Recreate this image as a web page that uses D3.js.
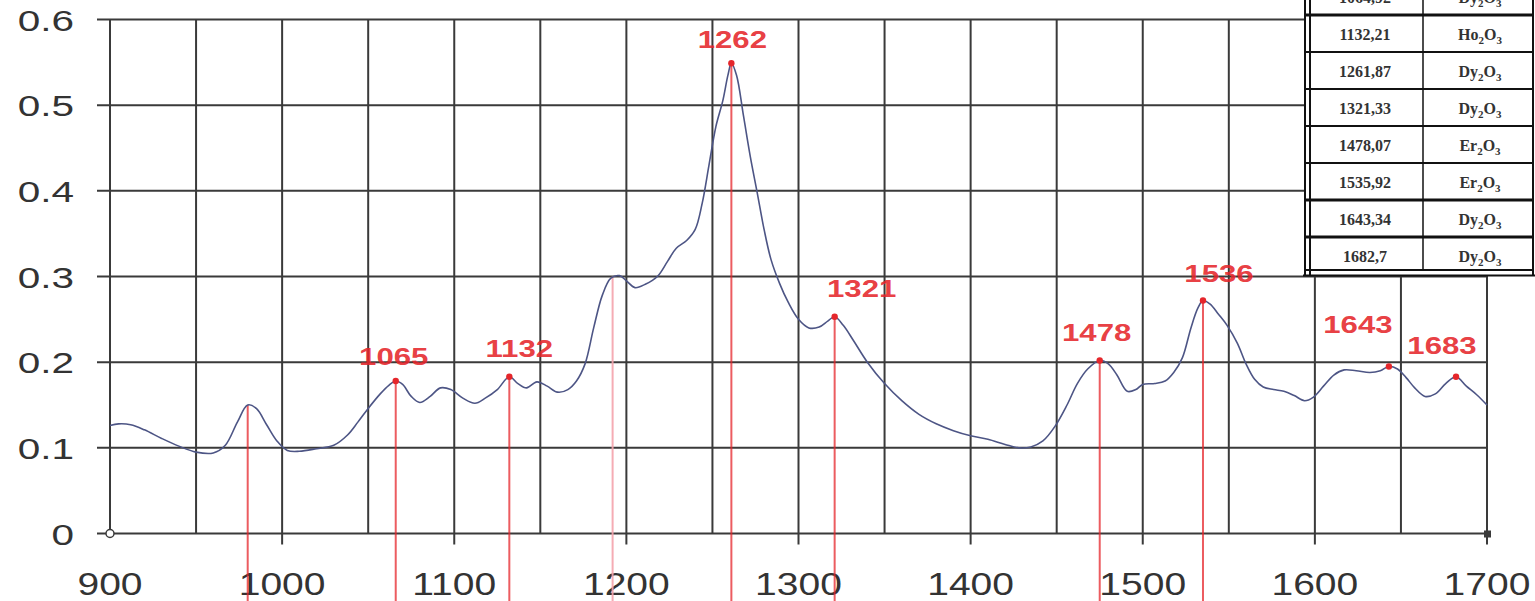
<!DOCTYPE html>
<html>
<head>
<meta charset="utf-8">
<script src="https://cdn.jsdelivr.net/npm/d3@7"></script>
<style>
  body { margin: 0; background: #fff; }
  svg { display: block; }
</style>
</head>
<body>
<svg class="chart"></svg>
<script>
// spectrum
var wavenumber = [900, 905, 912, 920, 930, 940, 950, 960, 967, 974, 980, 985, 991, 997, 1003, 1010, 1020, 1030, 1038, 1044, 1050, 1057, 1062, 1066, 1070, 1075, 1080, 1086, 1092, 1098, 1105, 1112, 1118, 1125, 1132, 1137, 1142, 1148, 1154, 1160, 1166, 1171, 1176, 1181, 1186, 1191, 1196, 1200, 1205, 1211, 1218, 1224, 1229, 1235, 1240, 1244, 1248, 1252, 1256, 1259, 1261, 1264, 1268, 1272, 1276, 1280, 1284, 1289, 1294, 1300, 1306, 1312, 1317, 1321, 1326, 1332, 1340, 1350, 1360, 1370, 1380, 1390, 1400, 1410, 1420, 1428, 1435, 1442, 1449, 1456, 1462, 1468, 1475, 1480, 1485, 1491, 1496, 1500, 1507, 1513, 1518, 1523, 1528, 1532, 1535, 1539, 1544, 1549, 1555, 1560, 1565, 1570, 1576, 1582, 1588, 1594, 1599, 1605, 1611, 1617, 1624, 1632, 1638, 1643, 1648, 1653, 1658, 1664, 1670, 1676, 1682, 1688, 1694, 1700];
var absorbance = [0.126, 0.128, 0.127, 0.121, 0.111, 0.102, 0.095, 0.094, 0.103, 0.130, 0.150, 0.146, 0.127, 0.108, 0.097, 0.096, 0.099, 0.103, 0.115, 0.130, 0.146, 0.163, 0.173, 0.178, 0.174, 0.160, 0.153, 0.160, 0.170, 0.168, 0.158, 0.152, 0.158, 0.168, 0.183, 0.175, 0.170, 0.177, 0.172, 0.165, 0.168, 0.178, 0.198, 0.240, 0.278, 0.298, 0.301, 0.295, 0.287, 0.291, 0.300, 0.318, 0.333, 0.342, 0.355, 0.385, 0.430, 0.475, 0.505, 0.535, 0.549, 0.535, 0.488, 0.440, 0.398, 0.355, 0.320, 0.292, 0.270, 0.250, 0.240, 0.241, 0.248, 0.253, 0.243, 0.225, 0.200, 0.175, 0.155, 0.139, 0.128, 0.120, 0.114, 0.110, 0.104, 0.100, 0.101, 0.108, 0.125, 0.150, 0.175, 0.192, 0.202, 0.198, 0.185, 0.166, 0.168, 0.174, 0.175, 0.178, 0.188, 0.205, 0.240, 0.263, 0.272, 0.268, 0.256, 0.243, 0.222, 0.198, 0.180, 0.171, 0.168, 0.166, 0.161, 0.155, 0.159, 0.172, 0.185, 0.191, 0.190, 0.188, 0.190, 0.195, 0.192, 0.182, 0.170, 0.160, 0.163, 0.175, 0.183, 0.172, 0.162, 0.150];

// marked peaks
var peakPos   = [980, 1066, 1132, 1192, 1261, 1321, 1475, 1535, 1643, 1682];
var peakVal   = [0.150, 0.178, 0.183, 0.300, 0.549, 0.253, 0.202, 0.272, 0.195, 0.183];
var peakLabel = ["", "1065", "1132", "", "1262", "1321", "1478", "1536", "1643", "1683"];
var peakDrop  = [true, true, true, true, true, true, true, true, false, false];

var xTicks = [900, 1000, 1100, 1200, 1300, 1400, 1500, 1600, 1700];
var xGrid = d3.range(900, 1701, 50);
var yTicks = [0, 0.1, 0.2, 0.3, 0.4, 0.5, 0.6];

// inset table
var tableWave  = ["1064,92", "1132,21", "1261,87", "1321,33", "1478,07", "1535,92", "1643,34", "1682,7"];
var tableOxide = ["Dy", "Ho", "Dy", "Dy", "Er", "Er", "Dy", "Dy"];

var W = 1535, H = 601;

var svg = d3.select(".chart")
    .attr("width", W)
    .attr("height", H);

var x = d3.scaleLinear().domain([900, 1700]).range([110, 1487]);
var y = d3.scaleLinear().domain([0, 0.6]).range([533.5, 19.5]);

var gridColor = "#3a3a3a";
var red = "#e5262b";

// grid
var grid = svg.append("g");
grid.selectAll(".hg")
    .data(yTicks)
  .enter().append("line")
    .attr("x1", 97).attr("x2", x(1700))
    .attr("y1", d => y(d)).attr("y2", d => y(d))
    .attr("stroke", gridColor)
    .attr("stroke-width", 2);

grid.selectAll(".vg")
    .data(xGrid)
  .enter().append("line")
    .attr("x1", d => x(d)).attr("x2", d => x(d))
    .attr("y1", y(0.6))
    .attr("y2", d => d % 100 == 0 && d != 900 ? y(0) + 11 : y(0))
    .attr("stroke", gridColor)
    .attr("stroke-width", 2);

// axis end markers
svg.append("circle")
    .attr("cx", x(900)).attr("cy", y(0)).attr("r", 4)
    .attr("fill", "#fff").attr("stroke", gridColor).attr("stroke-width", 1.5);
svg.append("rect")
    .attr("x", x(1700) - 3).attr("y", y(0) - 3)
    .attr("width", 7).attr("height", 7)
    .attr("fill", gridColor);

// tick labels (the original lettering is wide, so stretch it)
svg.selectAll(".ylab")
    .data(yTicks)
  .enter().append("text")
    .attr("transform", d => "translate(74," + (y(d) + 11) + ") scale(1.35,1)")
    .attr("text-anchor", "end")
    .style("font-family", "Liberation Sans, Arial, sans-serif")
    .style("font-size", "30px")
    .style("fill", "#333")
    .text(d => d == 0 ? "0" : d.toFixed(1));

svg.selectAll(".xlab")
    .data(xTicks)
  .enter().append("text")
    .attr("transform", d => "translate(" + x(d) + ",595) scale(1.22,1)")
    .attr("text-anchor", "middle")
    .style("font-family", "Liberation Sans, Arial, sans-serif")
    .style("font-size", "32px")
    .style("fill", "#333")
    .text(d => d);

// red drop lines from peaks to the bottom
var peaks = peakPos.map(function(p, i) {
  return {pos: p, val: peakVal[i], label: peakLabel[i], drop: peakDrop[i]};
});

svg.selectAll(".drop")
    .data(peaks.filter(d => d.drop))
  .enter().append("line")
    .attr("x1", d => x(d.pos)).attr("x2", d => x(d.pos))
    .attr("y1", d => y(d.val)).attr("y2", H)
    .attr("stroke", d => d.pos == 1192 ? "#f4a3ac" : red)
    .attr("stroke-opacity", d => d.pos == 1192 ? 0.9 : 0.75)
    .attr("stroke-width", 2);

// spectrum
var line = d3.line()
    .x((d, i) => x(wavenumber[i]))
    .y(d => y(d))
    .curve(d3.curveCatmullRom.alpha(0.5));

svg.append("path")
    .attr("d", line(absorbance))
    .attr("fill", "none")
    .attr("stroke", "#4d5585")
    .attr("stroke-width", 1.6);

// peak dots and labels
var labelled = peaks.filter(d => d.label != "");
var nudge = {"1065": [-2, -16], "1132": [10, -20], "1262": [1, -15], "1321": [27, -20],
             "1478": [-3, -19], "1536": [16, -18], "1643": [-31, -33], "1683": [-14, -23]};

svg.selectAll(".dot")
    .data(labelled)
  .enter().append("circle")
    .attr("cx", d => x(d.pos)).attr("cy", d => y(d.val))
    .attr("r", 3.2)
    .attr("fill", red);

svg.selectAll(".plab")
    .data(labelled)
  .enter().append("text")
    .attr("transform", d => "translate(" + (x(d.pos) + nudge[d.label][0]) + "," + (y(d.val) + nudge[d.label][1]) + ") scale(1.3,1)")
    .attr("text-anchor", "middle")
    .style("font-family", "Liberation Sans, Arial, sans-serif")
    .style("font-size", "24px")
    .style("font-weight", "bold")
    .style("fill", red)
    .style("fill-opacity", 0.9)
    .text(d => d.label);

// inset table, top right
var tx = 1305, tcol = 1423, tr = 1533, rowH = 37, rowTop = -22;
var table = svg.append("g");
table.append("rect")
    .attr("x", tx).attr("y", 0)
    .attr("width", W - tx).attr("height", 276)
    .attr("fill", "#fff");

var rowLines = d3.range(tableWave.length + 1).map(i => rowTop + i * rowH);
table.selectAll(".rl")
    .data(rowLines.slice(1))
  .enter().append("line")
    .attr("x1", tx).attr("x2", tr)
    .attr("y1", (d, i) => i == rowLines.length - 2 ? 270 : d)
    .attr("y2", (d, i) => i == rowLines.length - 2 ? 270 : d)
    .attr("stroke", "#111")
    .attr("stroke-width", (d, i) => (i == 0 || i == 5 || i == 6) ? 3 : 2);

table.append("line")
    .attr("x1", tx - 2).attr("x2", tr + 2).attr("y1", 275.5).attr("y2", 275.5)
    .attr("stroke", "#111").attr("stroke-width", 2);

[tx, tx + 5, tcol, tr].forEach(function(cx, i) {
  table.append("line")
      .attr("x1", cx).attr("x2", cx)
      .attr("y1", 0).attr("y2", i == 2 ? 270 : 276)
      .attr("stroke", "#111")
      .attr("stroke-width", i == 2 ? 1.5 : 2);
});

var cellFont = "Liberation Serif, Times New Roman, serif";
table.selectAll(".tw")
    .data(tableWave)
  .enter().append("text")
    .attr("x", 1365)
    .attr("y", (d, i) => rowTop + i * rowH + rowH / 2 + 6)
    .attr("text-anchor", "middle")
    .style("font-family", cellFont)
    .style("font-size", "16px")
    .style("font-weight", "bold")
    .style("fill", "#333")
    .text(d => d);

var ox = table.selectAll(".to")
    .data(tableOxide)
  .enter().append("text")
    .attr("x", 1480)
    .attr("y", (d, i) => rowTop + i * rowH + rowH / 2 + 6)
    .attr("text-anchor", "middle")
    .style("font-family", cellFont)
    .style("font-size", "16px")
    .style("font-weight", "bold")
    .style("fill", "#333");
ox.append("tspan").text(d => d);
ox.append("tspan").attr("dy", 4).style("font-size", "11px").text("2");
ox.append("tspan").attr("dy", -4).text("O");
ox.append("tspan").attr("dy", 4).style("font-size", "11px").text("3");
</script>
</body>
</html>
